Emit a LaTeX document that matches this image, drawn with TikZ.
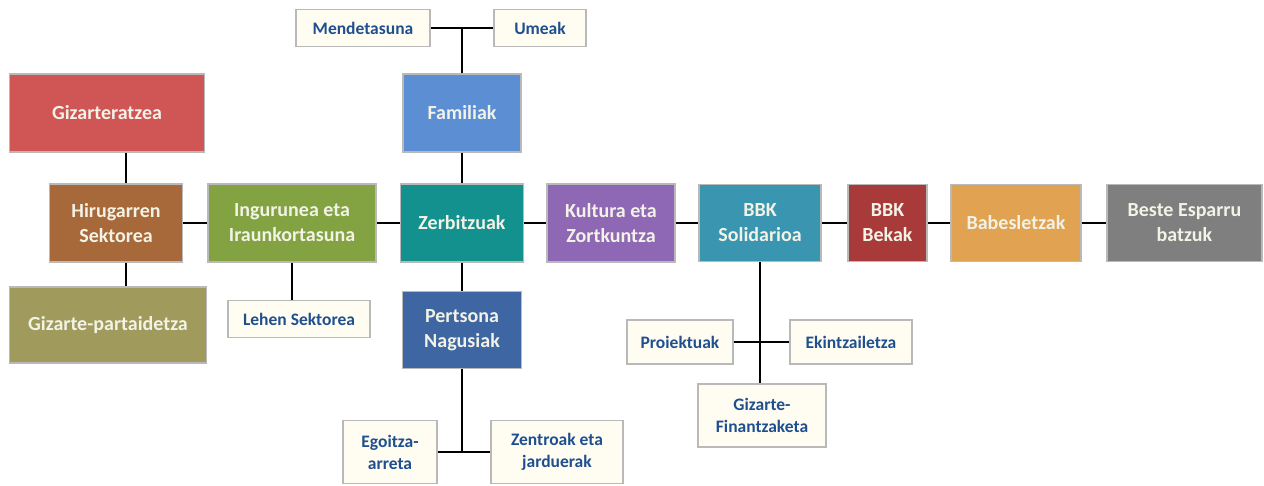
\documentclass[tikz,border=0pt]{standalone}
\usepackage{fontspec}
\setmainfont{Carlito}
\usetikzlibrary{positioning}
\definecolor{rojo}{HTML}{D05656}
\definecolor{marron}{HTML}{A8693A}
\definecolor{oliva}{HTML}{A09B5C}
\definecolor{verde}{HTML}{83A342}
\definecolor{azul}{HTML}{5B8ED2}
\definecolor{turquesa}{HTML}{13918F}
\definecolor{azuloscuro}{HTML}{3E66A3}
\definecolor{morado}{HTML}{8F68B5}
\definecolor{azulbbk}{HTML}{3995B0}
\definecolor{granate}{HTML}{A83A3A}
\definecolor{naranja}{HTML}{E1A252}
\definecolor{gris}{HTML}{7F7F7F}
\definecolor{crema}{HTML}{FFFDF2}
\definecolor{textoazul}{HTML}{1F4F8F}
\definecolor{textoclaro}{HTML}{F2F2E6}
\tikzset{
  bigbox/.style={draw=gray!55,line width=1.2pt,fill=#1,text=textoclaro,
    font=\fontsize{20}{25}\selectfont\bfseries,align=center,
    minimum height=78pt,inner sep=2pt},
  smallbox/.style={draw=gray!55,line width=1.2pt,fill=crema,text=textoazul,
    font=\fontsize{17.5}{22}\selectfont\bfseries,align=center,
    minimum height=37pt,inner sep=2pt},
  link/.style={line width=1.5pt,black}
}
\begin{document}
\begin{tikzpicture}[x=1pt,y=-1pt]
    \useasboundingbox (0,0) rectangle (1264,485);

    % left column
    \node[bigbox=rojo,minimum width=195pt] (giz) at (107,113) {Gizarteratzea};
    \node[bigbox=marron,minimum width=133pt] (hir) at (116,223) {Hirugarren\\Sektorea};
    \node[bigbox=oliva,minimum width=197pt,minimum height=76pt] (par) at (108,325) {Gizarte-partaidetza};
    \node[bigbox=verde,minimum width=168pt] (ing) at (292,223) {Ingurunea eta\\Iraunkortasuna};
    \node[smallbox,minimum width=142pt] (leh) at (299,319) {Lehen Sektorea};

    % centre column
    \node[smallbox,minimum width=134pt] (men) at (363,28) {Mendetasuna};
    \node[smallbox,minimum width=92pt] (ume) at (540,28) {Umeak};
    \node[bigbox=azul,minimum width=118pt] (fam) at (462,113) {Familiak};
    \node[bigbox=turquesa,minimum width=123pt] (zer) at (462,223) {Zerbitzuak};
    \node[bigbox=azuloscuro,minimum width=119pt,minimum height=77pt] (per) at (462,330) {Pertsona\\Nagusiak};
    \node[smallbox,minimum width=94pt,minimum height=63pt] (ego) at (390,452) {Egoitza-\\arreta};
    \node[smallbox,minimum width=132pt,minimum height=63pt] (zen) at (557,452) {Zentroak eta\\jarduerak};

    % right part
    \node[bigbox=morado,minimum width=128pt] (kul) at (611,223) {Kultura eta\\Zortkuntza};
    \node[bigbox=azulbbk,minimum width=122pt,minimum height=77pt] (sol) at (760,223) {BBK\\Solidarioa};
    \node[bigbox=granate,minimum width=79pt,minimum height=77pt] (bek) at (887.5,223) {BBK\\Bekak};
    \node[bigbox=naranja,minimum width=130pt,minimum height=77pt] (bab) at (1016,223) {Babesletzak};
    \node[bigbox=gris,minimum width=155pt,minimum height=77pt] (bes) at (1184.5,223) {Beste Esparru\\batzuk};
    \node[smallbox,minimum width=106pt,minimum height=44pt] (pro) at (680,342) {Proiektuak};
    \node[smallbox,minimum width=122pt,minimum height=44pt] (eki) at (851,342) {Ekintzailetza};
    \node[smallbox,minimum width=128pt,minimum height=63pt] (fin) at (762,415.5) {Gizarte-\\Finantzaketa};

    % connectors
    \draw[link] (hir) -- (ing) -- (zer) -- (kul) -- (sol) -- (bek) -- (bab) -- (bes);
    \draw[link] ([xshift=10pt]hir.north) -- ([xshift=10pt]hir.north |- giz.south);
    \draw[link] ([xshift=10pt]hir.south) -- ([xshift=10pt]hir.south |- par.north);
    \draw[link] (ing.south) -- (ing.south |- leh.north);
    \draw[link] (men) -- (ume);
    \draw[link] (fam.north) -- (fam.north |- men.east);
    \draw[link] (fam) -- (zer);
    \draw[link] (zer) -- (per);
    \draw[link] (ego) -- (zen);
    \draw[link] (per.south) -- (per.south |- ego.east);
    \draw[link] (pro) -- (eki);
    \draw[link] (sol.south) -- (sol.south |- fin.north);
\end{tikzpicture}
\end{document}
